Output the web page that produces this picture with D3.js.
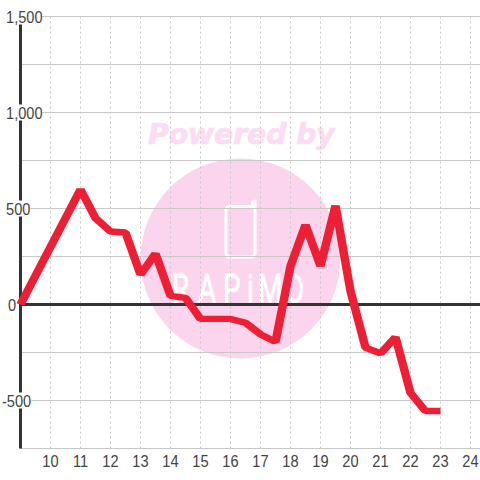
<!DOCTYPE html>
<html>
<head>
<meta charset="utf-8">
<script src="https://cdn.jsdelivr.net/npm/d3@7"></script>
<style>
html, body { margin: 0; padding: 0; background: #fefffe; }
svg { display: block; }
text { font-family: "Liberation Sans", Arial, sans-serif; }
</style>
</head>
<body>
<svg width="480" height="480"></svg>
<script>
const hours = [9, 9.5, 10, 10.5, 11, 11.5, 12, 12.5, 13, 13.5, 14, 14.5, 15, 15.5, 16, 16.5, 17, 17.5, 18, 18.5, 19, 19.5, 20, 20.5, 21, 21.5, 22, 22.5, 23];
const values = [0, 150, 300, 450, 600, 450, 380, 375, 155, 265, 45, 35, -75, -75, -75, -95, -155, -195, 200, 415, 200, 515, 70, -225, -255, -170, -460, -555, -555];
const xTicks = [10, 11, 12, 13, 14, 15, 16, 17, 18, 19, 20, 21, 22, 23, 24];
const yGrid = [-750, -500, -250, 0, 250, 500, 750, 1000, 1250, 1500];
const yLabels = [-500, 0, 500, 1000, 1500];

const x = d3.scaleLinear().domain([9, 24]).range([20.5, 470.5]);
const y = d3.scaleLinear().domain([-750, 1500]).range([448.5, 16.5]);

const bg = "#fefffe";
const squeeze = 0.86; // labels in the picture are narrower than the font
const lineSqueeze = 0.75; // and the line is thinner vertically than it is across

const svg = d3.select("svg");

// watermark sits under the grid
svg.append("circle").attr("cx", 240.5).attr("cy", 258.5).attr("r", 100).attr("fill", "#fbd5ee");
svg.append("text")
    .attr("x", 148).attr("y", 144)
    .style("font-family", "DejaVu Sans")
    .style("font-weight", "bold")
    .style("font-style", "italic")
    .style("font-size", "28.2px")
    .attr("fill", "#fcdcf2")
    .attr("stroke", "#fcdcf2")
    .attr("stroke-width", 0.7)
    .text("Powered by");

// phone icon
svg.append("path")
    .attr("d", "M230 206.5 H253 M255 201 V253 Q255 257 251 257 H230 Q226 257 226 253 V210.5 Q226 206.5 230 206.5 M252.5 206 V202")
    .attr("fill", "none").attr("stroke", "#fff").attr("stroke-width", 3).attr("stroke-linecap", "round");

svg.append("text")
    .attr("transform", "scale(0.68,1)")
    .attr("x", [172, 198, 223, 247, 258, 285].map(d => d / 0.68).join(" "))
    .attr("y", 303)
    .style("font-family", "Roboto")
    .style("font-weight", 400)
    .style("font-size", "41px")
    .attr("fill", "#fff")
    .attr("stroke", "#fff")
    .attr("stroke-width", 0.8)
    .text("RAPiMO");

// grid
svg.append("g").selectAll("line").data(xTicks).enter().append("line")
    .attr("x1", d => x(d)).attr("x2", d => x(d))
    .attr("y1", y(1500)).attr("y2", y(-750))
    .attr("stroke", "#c8c8c8")
    .attr("stroke-dasharray", "2,3");

svg.append("g").selectAll("line").data(yGrid).enter().append("line")
    .attr("x1", 20).attr("x2", 480)
    .attr("y1", d => y(d)).attr("y2", d => y(d))
    .attr("stroke", "#c8c8c8");

// axes
svg.append("line")
    .attr("x1", x(9)).attr("x2", x(9))
    .attr("y1", y(1500)).attr("y2", y(-750))
    .attr("stroke", "#333").attr("stroke-width", 3);
svg.append("line")
    .attr("x1", 20).attr("x2", 480)
    .attr("y1", y(0)).attr("y2", y(0))
    .attr("stroke", "#333").attr("stroke-width", 3);

// the line
const line = d3.line().x((d, i) => x(hours[i])).y(d => y(d) / lineSqueeze);
svg.append("path")
    .datum(values)
    .attr("transform", `scale(1,${lineSqueeze})`)
    .attr("d", line)
    .attr("fill", "none")
    .attr("stroke", "#ee1f35")
    .attr("stroke-width", 8.5)
    .attr("stroke-linejoin", "bevel")
    .attr("stroke-linecap", "butt");

// labels, with a box behind them that cuts the axis and grid
const yFmt = d3.format(",");
const labelLeft = d => d === -500 ? 2 : d === 0 ? 8 : 6;
const yLabel = svg.append("g").selectAll("g").data(yLabels).enter().append("g")
    .attr("transform", d => `translate(${labelLeft(d)},${y(d) + 6}) scale(${squeeze},1)`);
yLabel.append("text")
    .style("font-size", "17px")
    .attr("fill", "#444")
    .text(d => yFmt(d).replace("−", "-"));
yLabel.insert("rect", "text")
    .attr("y", -14)
    .attr("height", 16)
    .attr("width", function () { return this.parentNode.querySelector("text").getBBox().width; })
    .attr("fill", bg);

svg.append("g").selectAll("text").data(xTicks).enter().append("text")
    .attr("transform", d => `translate(${x(d)},467) scale(${squeeze},1)`)
    .attr("text-anchor", "middle")
    .style("font-size", "17px")
    .attr("fill", "#444")
    .text(d => d);
</script>
</body>
</html>
